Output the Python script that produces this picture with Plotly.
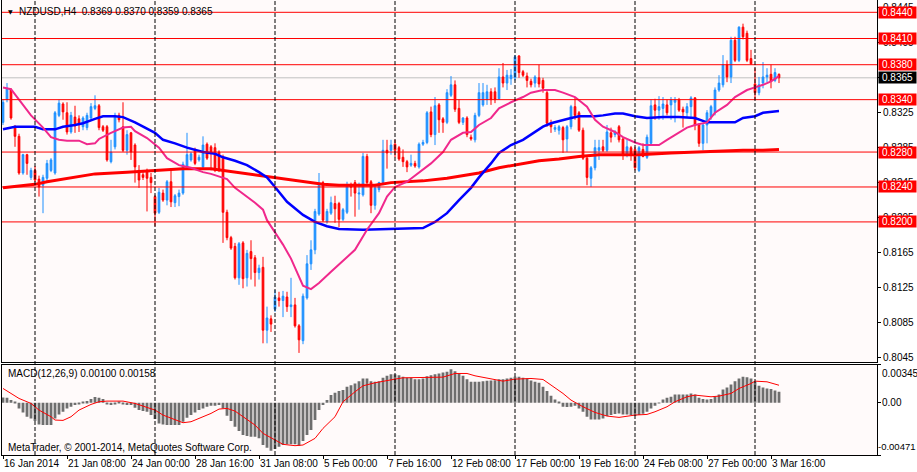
import plotly.graph_objects as go

# ---------------- data ----------------
BARS = list(range(195))

OPEN = [0.8314, 0.8340, 0.8351, 0.8309, 0.8298, 0.8256, 0.8277, 0.8251, 0.8259, 0.8249,
        0.8242, 0.8250, 0.8259, 0.8256, 0.8322, 0.8335, 0.8325, 0.8303, 0.8320, 0.8318,
        0.8309, 0.8308, 0.8319, 0.8330, 0.8333, 0.8309, 0.8309, 0.8269, 0.8286, 0.8322,
        0.8309, 0.8282, 0.8302, 0.8288, 0.8259, 0.8254, 0.8259, 0.8251, 0.8229, 0.8211,
        0.8233, 0.8225, 0.8246, 0.8222, 0.8229, 0.8233, 0.8263, 0.8271, 0.8282, 0.8271,
        0.8263, 0.8289, 0.8286, 0.8285, 0.8280, 0.8273, 0.8211, 0.8182, 0.8172, 0.8136,
        0.8176, 0.8136, 0.8166, 0.8159, 0.8142, 0.8148, 0.8076, 0.8089, 0.8100, 0.8113,
        0.8110, 0.8114, 0.8103, 0.8105, 0.8081, 0.8064, 0.8113, 0.8152, 0.8168, 0.8209,
        0.8245, 0.8200, 0.8210, 0.8221, 0.8221, 0.8203, 0.8211, 0.8241, 0.8245, 0.8232,
        0.8231, 0.8275, 0.8246, 0.8219, 0.8237, 0.8245, 0.8282, 0.8282, 0.8289, 0.8285,
        0.8274, 0.8269, 0.8265, 0.8267, 0.8263, 0.8289, 0.8291, 0.8326, 0.8300, 0.8334,
        0.8318, 0.8314, 0.8345, 0.8357, 0.8330, 0.8314, 0.8319, 0.8297, 0.8294, 0.8322,
        0.8334, 0.8340, 0.8349, 0.8349, 0.8341, 0.8366, 0.8359, 0.8364, 0.8365, 0.8390,
        0.8372, 0.8367, 0.8361, 0.8359, 0.8365, 0.8362, 0.8348, 0.8313, 0.8306, 0.8305,
        0.8308, 0.8295, 0.8309, 0.8332, 0.8325, 0.8305, 0.8273, 0.8250, 0.8262, 0.8282,
        0.8286, 0.8282, 0.8302, 0.8300, 0.8309, 0.8295, 0.8277, 0.8285, 0.8283, 0.8259,
        0.8283, 0.8274, 0.8290, 0.8334, 0.8328, 0.8330, 0.8334, 0.8334, 0.8337, 0.8340,
        0.8329, 0.8325, 0.8332, 0.8342, 0.8311, 0.8290, 0.8311, 0.8320, 0.8325, 0.8351,
        0.8357, 0.8380, 0.8366, 0.8408, 0.8385, 0.8423, 0.8416, 0.8387, 0.8358, 0.8348,
        0.8359, 0.8366, 0.8369, 0.8362, 0.8369]

HIGH = [0.8340, 0.8359, 0.8353, 0.8311, 0.8301, 0.8278, 0.8278, 0.8262, 0.8264, 0.8253,
        0.8254, 0.8271, 0.8273, 0.8327, 0.8340, 0.8337, 0.8337, 0.8326, 0.8333, 0.8322,
        0.8321, 0.8325, 0.8336, 0.8345, 0.8335, 0.8311, 0.8311, 0.8294, 0.8325, 0.8325,
        0.8337, 0.8305, 0.8303, 0.8290, 0.8265, 0.8257, 0.8261, 0.8256, 0.8231, 0.8239,
        0.8237, 0.8248, 0.8259, 0.8232, 0.8237, 0.8269, 0.8302, 0.8280, 0.8285, 0.8277,
        0.8298, 0.8291, 0.8288, 0.8290, 0.8282, 0.8277, 0.8214, 0.8184, 0.8176, 0.8177,
        0.8178, 0.8168, 0.8179, 0.8162, 0.8151, 0.8160, 0.8103, 0.8093, 0.8122, 0.8120,
        0.8121, 0.8120, 0.8136, 0.8113, 0.8083, 0.8118, 0.8162, 0.8179, 0.8215, 0.8256,
        0.8247, 0.8215, 0.8229, 0.8230, 0.8223, 0.8216, 0.8246, 0.8245, 0.8248, 0.8245,
        0.8279, 0.8278, 0.8248, 0.8241, 0.8246, 0.8294, 0.8294, 0.8294, 0.8294, 0.8287,
        0.8283, 0.8271, 0.8277, 0.8270, 0.8291, 0.8294, 0.8327, 0.8332, 0.8343, 0.8336,
        0.8320, 0.8352, 0.8367, 0.8362, 0.8340, 0.8320, 0.8321, 0.8300, 0.8325, 0.8359,
        0.8359, 0.8357, 0.8353, 0.8354, 0.8376, 0.8382, 0.8374, 0.8375, 0.8391, 0.8391,
        0.8374, 0.8371, 0.8364, 0.8368, 0.8380, 0.8365, 0.8351, 0.8317, 0.8311, 0.8311,
        0.8310, 0.8311, 0.8334, 0.8343, 0.8327, 0.8308, 0.8275, 0.8264, 0.8294, 0.8294,
        0.8294, 0.8311, 0.8308, 0.8305, 0.8311, 0.8297, 0.8294, 0.8287, 0.8286, 0.8287,
        0.8290, 0.8300, 0.8340, 0.8341, 0.8344, 0.8343, 0.8340, 0.8343, 0.8343, 0.8342,
        0.8332, 0.8336, 0.8344, 0.8343, 0.8313, 0.8313, 0.8328, 0.8334, 0.8354, 0.8368,
        0.8391, 0.8385, 0.8412, 0.8412, 0.8424, 0.8427, 0.8419, 0.8397, 0.8376, 0.8366,
        0.8383, 0.8376, 0.8380, 0.8376, 0.8370]

LOW = [0.8311, 0.8337, 0.8317, 0.8286, 0.8254, 0.8254, 0.8254, 0.8248, 0.8246, 0.8229,
       0.8210, 0.8247, 0.8257, 0.8254, 0.8320, 0.8317, 0.8300, 0.8301, 0.8302, 0.8303,
       0.8305, 0.8305, 0.8317, 0.8328, 0.8305, 0.8303, 0.8269, 0.8267, 0.8283, 0.8314,
       0.8280, 0.8277, 0.8271, 0.8245, 0.8239, 0.8248, 0.8212, 0.8233, 0.8195, 0.8209,
       0.8223, 0.8219, 0.8217, 0.8217, 0.8218, 0.8231, 0.8261, 0.8269, 0.8265, 0.8269,
       0.8261, 0.8271, 0.8259, 0.8257, 0.8257, 0.8176, 0.8179, 0.8168, 0.8134, 0.8128,
       0.8124, 0.8126, 0.8134, 0.8126, 0.8134, 0.8061, 0.8061, 0.8074, 0.8097, 0.8103,
       0.8091, 0.8097, 0.8091, 0.8079, 0.8050, 0.8060, 0.8111, 0.8145, 0.8163, 0.8207,
       0.8200, 0.8198, 0.8208, 0.8199, 0.8194, 0.8201, 0.8209, 0.8229, 0.8206, 0.8214,
       0.8229, 0.8242, 0.8210, 0.8214, 0.8234, 0.8242, 0.8261, 0.8277, 0.8274, 0.8270,
       0.8263, 0.8257, 0.8263, 0.8262, 0.8261, 0.8287, 0.8289, 0.8297, 0.8288, 0.8302,
       0.8302, 0.8312, 0.8343, 0.8326, 0.8312, 0.8311, 0.8297, 0.8293, 0.8291, 0.8320,
       0.8332, 0.8334, 0.8334, 0.8336, 0.8340, 0.8354, 0.8351, 0.8357, 0.8362, 0.8365,
       0.8366, 0.8354, 0.8354, 0.8354, 0.8354, 0.8348, 0.8309, 0.8302, 0.8303, 0.8300,
       0.8279, 0.8280, 0.8306, 0.8317, 0.8303, 0.8271, 0.8242, 0.8240, 0.8259, 0.8271,
       0.8280, 0.8280, 0.8291, 0.8297, 0.8291, 0.8271, 0.8274, 0.8270, 0.8259, 0.8257,
       0.8274, 0.8272, 0.8288, 0.8317, 0.8317, 0.8317, 0.8322, 0.8317, 0.8314, 0.8326,
       0.8308, 0.8320, 0.8320, 0.8305, 0.8286, 0.8282, 0.8290, 0.8317, 0.8322, 0.8349,
       0.8354, 0.8360, 0.8359, 0.8383, 0.8383, 0.8409, 0.8383, 0.8380, 0.8340, 0.8345,
       0.8353, 0.8360, 0.8353, 0.8360, 0.8359]

CLOSE = [0.8337, 0.8353, 0.8319, 0.8298, 0.8256, 0.8277, 0.8267, 0.8259, 0.8248, 0.8240,
         0.8251, 0.8267, 0.8271, 0.8325, 0.8336, 0.8326, 0.8303, 0.8322, 0.8310, 0.8312,
         0.8319, 0.8322, 0.8332, 0.8333, 0.8308, 0.8305, 0.8271, 0.8280, 0.8322, 0.8317,
         0.8282, 0.8300, 0.8280, 0.8263, 0.8248, 0.8251, 0.8250, 0.8245, 0.8210, 0.8234,
         0.8225, 0.8246, 0.8223, 0.8230, 0.8233, 0.8266, 0.8277, 0.8278, 0.8267, 0.8274,
         0.8288, 0.8273, 0.8280, 0.8259, 0.8259, 0.8211, 0.8182, 0.8170, 0.8136, 0.8175,
         0.8135, 0.8164, 0.8158, 0.8142, 0.8147, 0.8076, 0.8090, 0.8083, 0.8114, 0.8110,
         0.8115, 0.8103, 0.8105, 0.8081, 0.8065, 0.8115, 0.8152, 0.8168, 0.8212, 0.8242,
         0.8202, 0.8212, 0.8222, 0.8215, 0.8203, 0.8214, 0.8242, 0.8240, 0.8233, 0.8233,
         0.8275, 0.8245, 0.8219, 0.8239, 0.8245, 0.8282, 0.8279, 0.8288, 0.8282, 0.8272,
         0.8269, 0.8263, 0.8267, 0.8264, 0.8289, 0.8291, 0.8325, 0.8300, 0.8333, 0.8317,
         0.8314, 0.8348, 0.8357, 0.8329, 0.8314, 0.8319, 0.8300, 0.8295, 0.8322, 0.8348,
         0.8348, 0.8349, 0.8340, 0.8340, 0.8366, 0.8359, 0.8368, 0.8368, 0.8389, 0.8371,
         0.8368, 0.8362, 0.8357, 0.8366, 0.8358, 0.8353, 0.8313, 0.8309, 0.8308, 0.8309,
         0.8294, 0.8309, 0.8332, 0.8322, 0.8305, 0.8273, 0.8251, 0.8262, 0.8285, 0.8285,
         0.8282, 0.8303, 0.8297, 0.8303, 0.8294, 0.8277, 0.8286, 0.8277, 0.8262, 0.8285,
         0.8275, 0.8297, 0.8333, 0.8328, 0.8332, 0.8335, 0.8325, 0.8340, 0.8340, 0.8328,
         0.8326, 0.8332, 0.8342, 0.8311, 0.8290, 0.8311, 0.8325, 0.8332, 0.8351, 0.8359,
         0.8380, 0.8366, 0.8408, 0.8385, 0.8423, 0.8412, 0.8385, 0.8381, 0.8348, 0.8357,
         0.8366, 0.8368, 0.8361, 0.8371, 0.8365]

# moving averages sampled at bar indices
PINK_IDX = [0, 2, 4, 7, 10, 12, 14, 16, 19, 21, 23, 24, 27, 30, 32, 33, 36, 39, 41, 44,
            47, 50, 52, 55, 56, 58, 61, 63, 65, 66, 68, 70, 72, 73, 75, 77, 79, 82, 85, 88,
            91, 94, 96, 98, 101, 104, 107, 110, 112, 115, 117, 119, 122, 124, 127, 130, 132,
            135, 138, 140, 143, 146, 148, 150, 153, 155, 158, 160, 164, 166, 169, 171, 173,
            176, 178, 181, 183, 186, 188, 190, 192, 194]
PINK_VAL = [0.8354, 0.8352, 0.8340, 0.8322, 0.8308, 0.8297, 0.8294, 0.8293, 0.8293, 0.8289,
            0.8290, 0.8295, 0.8302, 0.8308, 0.8309, 0.8304, 0.8296, 0.8285, 0.8273, 0.8265,
            0.8262, 0.8257, 0.8255, 0.8251, 0.8249, 0.8239, 0.8229, 0.8222, 0.8214, 0.8202,
            0.8188, 0.8174, 0.8158, 0.8148, 0.8127, 0.8123, 0.8130, 0.8143, 0.8156, 0.8168,
            0.8191, 0.8210, 0.8229, 0.8240, 0.8246, 0.8256, 0.8267, 0.8280, 0.8294, 0.8302,
            0.8303, 0.8311, 0.8319, 0.8330, 0.8337, 0.8343, 0.8348, 0.8351, 0.8351, 0.8348,
            0.8343, 0.8332, 0.8317, 0.8309, 0.8303, 0.8297, 0.8291, 0.8288, 0.8288, 0.8294,
            0.8302, 0.8308, 0.8311, 0.8314, 0.8325, 0.8334, 0.8343, 0.8351, 0.8354, 0.8357,
            0.8361, 0.8367]

BLUE_IDX = [0, 3, 8, 10, 13, 15, 18, 20, 23, 25, 28, 30, 33, 35, 38, 40, 43, 46, 50, 53,
            55, 58, 61, 64, 66, 68, 71, 75, 78, 81, 84, 90, 97, 105, 108, 111, 114, 117, 119,
            122, 124, 127, 130, 132, 135, 137, 140, 142, 144, 148, 150, 153, 155, 158, 161,
            165, 169, 173, 176, 180, 183, 185, 188, 190, 193, 194]
BLUE_VAL = [0.8306, 0.8309, 0.8309, 0.8306, 0.8306, 0.8309, 0.8311, 0.8313, 0.8318, 0.8321,
            0.8321, 0.8320, 0.8314, 0.8309, 0.8302, 0.8294, 0.8290, 0.8285, 0.8280, 0.8278,
            0.8274, 0.8270, 0.8265, 0.8257, 0.8251, 0.8240, 0.8223, 0.8208, 0.8200, 0.8195,
            0.8192, 0.8191, 0.8192, 0.8193, 0.8200, 0.8210, 0.8225, 0.8239, 0.8251, 0.8267,
            0.8279, 0.8288, 0.8294, 0.8300, 0.8309, 0.8313, 0.8317, 0.8319, 0.8321, 0.8321,
            0.8322, 0.8324, 0.8324, 0.8321, 0.8319, 0.8320, 0.8320, 0.8319, 0.8314, 0.8314,
            0.8314, 0.8319, 0.8321, 0.8325, 0.8327, 0.8327]

RED_IDX = [0, 4, 8, 11, 16, 23, 31, 37, 45, 52, 58, 63, 69, 72, 75, 80, 84, 93, 97, 105,
           111, 117, 119, 124, 129, 134, 139, 144, 149, 159, 167, 173, 178, 185, 190, 194]
RED_VAL = [0.8239, 0.8241, 0.8243, 0.8246, 0.8250, 0.8255, 0.8257, 0.8259, 0.8261, 0.8261,
           0.8257, 0.8254, 0.8250, 0.8248, 0.8246, 0.8243, 0.8242, 0.8242, 0.8245, 0.8247,
           0.8250, 0.8255, 0.8256, 0.8262, 0.8266, 0.8270, 0.8272, 0.8275, 0.8277, 0.8277,
           0.8279, 0.8280, 0.8281, 0.8282, 0.8282, 0.8283]

MACD_HIST = [0.00048, 0.00045, 0.00024, 0.00006, -0.00051, -0.00087, -0.00126, -0.00141, -0.00165, -0.00195,
             -0.00201, -0.00201, -0.00201, -0.00141, -0.00105, -0.00081, -0.00051, -0.00036, -0.00021, -0.00015,
             0.00003, 0.00015, 0.00033, 0.00051, 0.00045, 0.00033, -0.00015, -0.00021, -0.00009, 0.00009,
             -0.00009, -0.00021, -0.00021, -0.00045, -0.00066, -0.00075, -0.00081, -0.00111, -0.00147, -0.00186,
             -0.00195, -0.00201, -0.00201, -0.00201, -0.00201, -0.00171, -0.00135, -0.00111, -0.00087, -0.00066,
             -0.00051, -0.00036, -0.00027, -0.00027, -0.00021, -0.00051, -0.00117, -0.00165, -0.00216, -0.00255,
             -0.00291, -0.00300, -0.00306, -0.00306, -0.00321, -0.00381, -0.00405, -0.00432, -0.00417, -0.00396,
             -0.00381, -0.00375, -0.00375, -0.00375, -0.00387, -0.00345, -0.00291, -0.00246, -0.00156, -0.00066,
             -0.00021, 0.00024, 0.00069, 0.00090, 0.00105, 0.00114, 0.00144, 0.00159, 0.00174, 0.00195,
             0.00219, 0.00219, 0.00195, 0.00189, 0.00195, 0.00225, 0.00243, 0.00258, 0.00258, 0.00249,
             0.00234, 0.00225, 0.00225, 0.00213, 0.00213, 0.00219, 0.00240, 0.00249, 0.00258, 0.00264,
             0.00273, 0.00279, 0.00303, 0.00285, 0.00264, 0.00243, 0.00213, 0.00189, 0.00189, 0.00189,
             0.00195, 0.00198, 0.00201, 0.00204, 0.00213, 0.00213, 0.00219, 0.00225, 0.00234, 0.00234,
             0.00225, 0.00219, 0.00201, 0.00189, 0.00180, 0.00144, 0.00105, 0.00063, 0.00030, 0.00009,
             -0.00036, -0.00039, -0.00036, -0.00027, -0.00051, -0.00081, -0.00126, -0.00150, -0.00150, -0.00150,
             -0.00141, -0.00120, -0.00111, -0.00102, -0.00096, -0.00105, -0.00105, -0.00111, -0.00120, -0.00111,
             -0.00099, -0.00081, -0.00051, -0.00027, -0.00003, 0.00030, 0.00045, 0.00054, 0.00075, 0.00075,
             0.00075, 0.00075, 0.00084, 0.00075, 0.00045, 0.00033, 0.00030, 0.00033, 0.00054, 0.00075,
             0.00120, 0.00138, 0.00165, 0.00195, 0.00219, 0.00234, 0.00231, 0.00219, 0.00189, 0.00153,
             0.00138, 0.00129, 0.00123, 0.00111, 0.00100]

SIG_IDX = [0, 2, 4, 7, 9, 12, 13, 15, 17, 19, 22, 24, 26, 30, 33, 35, 38, 40, 43, 45,
           47, 49, 52, 54, 56, 58, 60, 63, 65, 68, 70, 73, 75, 78, 80, 83, 85, 88, 90, 93,
           95, 98, 100, 103, 107, 110, 113, 116, 118, 122, 125, 128, 132, 135, 137, 140, 142,
           145, 148, 151, 154, 158, 161, 163, 166, 168, 171, 173, 177, 179, 182, 184, 187,
           188, 191, 194]
SIG_VAL = [0.00129, 0.00084, 0.00039, -0.00006, -0.00066, -0.00126, -0.00156, -0.00159, -0.00126, -0.00066,
           -0.00015, 0.00009, 0.00015, 0.00015, -0.00006, -0.00030, -0.00066, -0.00111, -0.00156, -0.00180,
           -0.00171, -0.00141, -0.00096, -0.00057, -0.00051, -0.00075, -0.00126, -0.00201, -0.00276, -0.00336,
           -0.00375, -0.00387, -0.00381, -0.00321, -0.00231, -0.00126, 0.00009, 0.00099, 0.00153, 0.00180,
           0.00195, 0.00213, 0.00225, 0.00228, 0.00228, 0.00231, 0.00264, 0.00264, 0.00243, 0.00219,
           0.00195, 0.00213, 0.00219, 0.00210, 0.00159, 0.00084, 0.00024, -0.00036, -0.00087, -0.00120,
           -0.00132, -0.00111, -0.00105, -0.00081, -0.00036, 0.00009, 0.00054, 0.00069, 0.00054, 0.00060,
           0.00084, 0.00129, 0.00174, 0.00195, 0.00189, 0.00158]

LEVELS = [0.8440, 0.8410, 0.8380, 0.8340, 0.8280, 0.8240, 0.8200]
CURRENT = 0.8365
PRICE_TICKS = [0.8045, 0.8085, 0.8125, 0.8165, 0.8205, 0.8245, 0.8285, 0.8325, 0.8365, 0.8405, 0.8445]
WEEK_BARS = [8, 38, 68, 98, 128, 158, 188]
DATE_BARS = [0, 16, 32, 48, 64, 80, 96, 112, 128, 144, 160, 176, 192]
DATE_TEXT = ["16 Jan 2014", "21 Jan 08:00", "24 Jan 00:00", "28 Jan 16:00", "31 Jan 08:00",
             "5 Feb 00:00", "7 Feb 16:00", "12 Feb 08:00", "17 Feb 00:00", "19 Feb 16:00",
             "24 Feb 08:00", "27 Feb 00:00", "3 Mar 16:00"]
MACD_TOP, MACD_BOTTOM = 0.00345, -0.00471
TITLE = "NZDUSD,H4  0.8369 0.8370 0.8359 0.8365"
MACD_TITLE = "MACD(12,26,9) 0.00100 0.00158"
COPYRIGHT = "MetaTrader, \u00a9 2001-2014, MetaQuotes Software Corp."

# ---------------- layout geometry ----------------
W, H = 917, 472
ML, MR, MT, MB = 2, 40, 0, 17
PW, PH = W - ML - MR, H - MT - MB


def pxx(px):
    return (px - ML) / PW


def pxy(py):
    return (H - MB - py) / PH


FONT = "Liberation Sans"
FS = 10
BG = "#FFFAFA"

fig = go.Figure()

fig.add_trace(go.Candlestick(
    x=BARS, open=OPEN, high=HIGH, low=LOW, close=CLOSE,
    increasing=dict(line=dict(color="#1E90FF", width=1), fillcolor="#1E90FF"),
    decreasing=dict(line=dict(color="#FF0000", width=1), fillcolor="#FF0000"),
    whiskerwidth=0, hoverinfo="none", xaxis="x", yaxis="y"))

fig.add_trace(go.Scatter(x=RED_IDX, y=RED_VAL, mode="lines",
                         line=dict(color="#FF0000", width=3), hoverinfo="none"))
fig.add_trace(go.Scatter(x=BLUE_IDX, y=BLUE_VAL, mode="lines",
                         line=dict(color="#0000FF", width=2.5), hoverinfo="none"))
fig.add_trace(go.Scatter(x=PINK_IDX, y=PINK_VAL, mode="lines",
                         line=dict(color="#F0288C", width=2), hoverinfo="none"))

fig.add_trace(go.Bar(x=BARS, y=MACD_HIST, width=0.7, marker=dict(color="#6E6E6E", line=dict(width=0)),
                     hoverinfo="none", xaxis="x2", yaxis="y2"))
fig.add_trace(go.Scatter(x=SIG_IDX, y=SIG_VAL, mode="lines", line=dict(color="#FF0000", width=1),
                         hoverinfo="none", xaxis="x2", yaxis="y2"))

shapes = []
shapes.append(dict(type="line", xref="x domain", x0=0, x1=1, yref="y", y0=CURRENT, y1=CURRENT,
                   line=dict(color="#C0C0C0", width=1), layer="below"))
for lv in LEVELS:
    shapes.append(dict(type="line", xref="x domain", x0=0, x1=1, yref="y", y0=lv, y1=lv,
                       line=dict(color="#FF0000", width=1), layer="above"))
for b in WEEK_BARS:
    shapes.append(dict(type="line", xref="x", x0=b, x1=b, yref="paper", y0=0, y1=1,
                       line=dict(color="#000000", width=1, dash="4px,2px"), layer="above"))

ann = []
ann.append(dict(text="\u25bc", xref="paper", yref="paper", x=pxx(6), y=pxy(11), xanchor="left",
                yanchor="middle", showarrow=False, font=dict(family="DejaVu Sans", size=6, color="#000000")))
ann.append(dict(text=TITLE, xref="paper", yref="paper", x=pxx(17), y=pxy(11), xanchor="left",
                yanchor="middle", showarrow=False, font=dict(family=FONT, size=FS, color="#000000")))
ann.append(dict(text=MACD_TITLE, xref="paper", yref="paper", x=pxx(6), y=pxy(373), xanchor="left",
                yanchor="middle", showarrow=False, font=dict(family=FONT, size=FS, color="#000000")))
ann.append(dict(text=COPYRIGHT, xref="paper", yref="paper", x=pxx(6), y=pxy(447), xanchor="left",
                yanchor="middle", showarrow=False, font=dict(family=FONT, size=FS, color="#000000")))
for b, t in zip(DATE_BARS, DATE_TEXT):
    ann.append(dict(text=t, xref="x2", yref="paper", x=b, y=pxy(463), xanchor="left", xshift=-1,
                    yanchor="middle", showarrow=False, font=dict(family=FONT, size=FS, color="#000000")))
for lv in LEVELS:
    ann.append(dict(text="%.4f" % lv, xref="paper", yref="y", x=1, y=lv, xanchor="left", xshift=1,
                    yanchor="middle", showarrow=False, bgcolor="#FF0000", width=37, height=11,
                    borderpad=0, font=dict(family=FONT, size=FS, color="#FFFFFF")))
ann.append(dict(text="%.4f" % CURRENT, xref="paper", yref="y", x=1, y=CURRENT, xanchor="left", xshift=1,
                yanchor="middle", showarrow=False, bgcolor="#000000", width=37, height=11,
                borderpad=0, font=dict(family=FONT, size=FS, color="#FFFFFF")))
ann.append(dict(text="0.00345", xref="paper", yref="y2", x=1, y=MACD_TOP, xanchor="left", xshift=3,
                yanchor="top", yshift=-1, showarrow=False, font=dict(family=FONT, size=FS, color="#000000")))
ann.append(dict(text="0.00", xref="paper", yref="y2", x=1, y=0, xanchor="left", xshift=3,
                yanchor="middle", showarrow=False, font=dict(family=FONT, size=FS, color="#000000")))
ann.append(dict(text="-0.00471", xref="paper", yref="y2", x=1, y=MACD_BOTTOM, xanchor="left", xshift=-1,
                yanchor="bottom", yshift=1, showarrow=False, font=dict(family=FONT, size=9.5, color="#000000")))

axis_common = dict(showline=True, mirror=True, linecolor="#000000", linewidth=1,
                   showgrid=False, zeroline=False, automargin=False)

fig.update_layout(
    width=W, height=H,
    margin=dict(l=ML, r=MR, t=MT, b=MB, pad=0),
    paper_bgcolor="#FFFFFF", plot_bgcolor=BG,
    showlegend=False, boxgap=0.4,
    font=dict(family=FONT, size=FS, color="#000000"),
    xaxis=dict(domain=[0, 1], range=[-0.25, 218.5], showticklabels=False, ticks="",
               rangeslider=dict(visible=False), anchor="y", **axis_common),
    yaxis=dict(domain=[pxy(362), 1], range=[0.80396, 0.84541], side="right",
               tickvals=PRICE_TICKS, ticktext=["%.4f" % v for v in PRICE_TICKS],
               ticks="outside", ticklen=3, tickcolor="#000000",
               tickfont=dict(family=FONT, size=FS, color="#000000"), anchor="x", **axis_common),
    xaxis2=dict(domain=[0, 1], range=[-0.25, 218.5], matches="x", showticklabels=False,
                tickvals=DATE_BARS, ticks="outside", ticklen=3, tickcolor="#000000",
                anchor="y2", **axis_common),
    yaxis2=dict(domain=[0, pxy(364.5)], range=[MACD_BOTTOM, MACD_TOP], side="right",
                tickvals=[MACD_BOTTOM, 0, MACD_TOP], showticklabels=False,
                ticks="outside", ticklen=3, tickcolor="#000000", anchor="x2", **axis_common),
    shapes=shapes, annotations=ann,
)

fig.write_html("out.html", config={"displayModeBar": False},
               post_script="document.body.style.margin='0px';document.body.style.overflow='hidden';")
